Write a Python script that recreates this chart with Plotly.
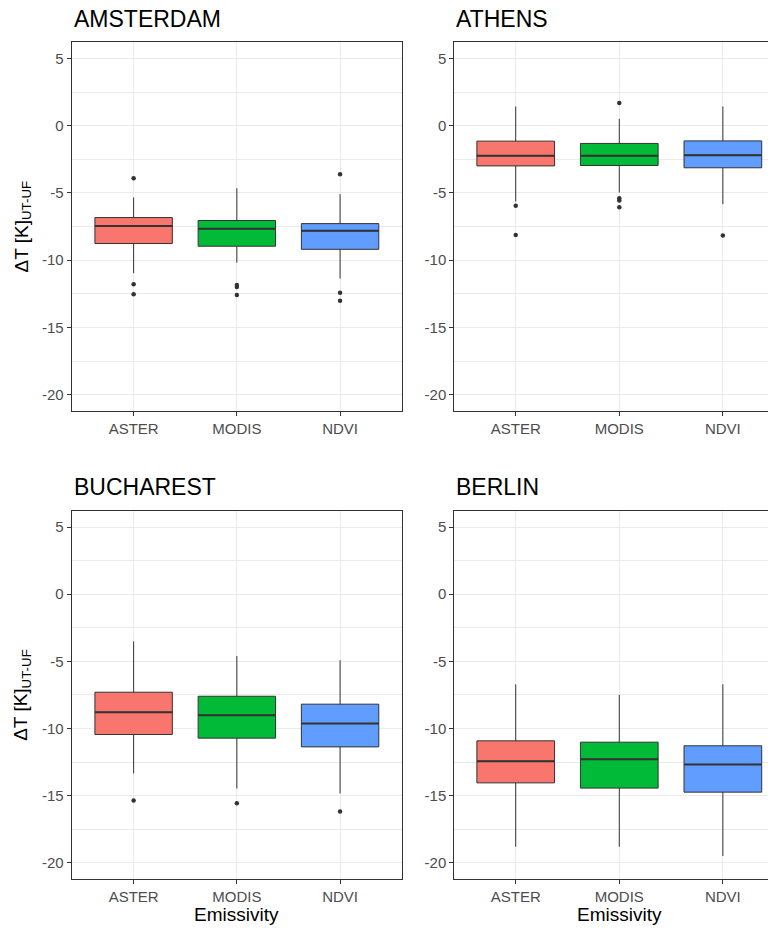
import plotly.graph_objects as go

# ---------------- data ----------------
cities = ["AMSTERDAM", "ATHENS", "BUCHAREST", "BERLIN"]
methods = ["ASTER", "MODIS", "NDVI"]
colors = ["#F8766D", "#00BA38", "#619CFF"]

lower_whisker = {
    "AMSTERDAM": [-10.97, -10.18, -11.36],
    "ATHENS":    [-5.64, -4.97, -5.84],
    "BUCHAREST": [-13.35, -14.47, -14.84],
    "BERLIN":    [-18.81, -18.81, -19.50],
}
q1 = {
    "AMSTERDAM": [-8.76, -8.96, -9.19],
    "ATHENS":    [-2.99, -2.96, -3.13],
    "BUCHAREST": [-10.45, -10.72, -11.37],
    "BERLIN":    [-14.05, -14.44, -14.74],
}
median = {
    "AMSTERDAM": [-7.45, -7.67, -7.82],
    "ATHENS":    [-2.24, -2.24, -2.19],
    "BUCHAREST": [-8.79, -9.01, -9.63],
    "BERLIN":    [-12.44, -12.29, -12.68],
}
q3 = {
    "AMSTERDAM": [-6.83, -7.05, -7.28],
    "ATHENS":    [-1.15, -1.32, -1.13],
    "BUCHAREST": [-7.30, -7.60, -8.19],
    "BERLIN":    [-10.92, -11.02, -11.29],
}
upper_whisker = {
    "AMSTERDAM": [-5.34, -4.65, -5.09],
    "ATHENS":    [1.43, 0.51, 1.43],
    "BUCHAREST": [-3.51, -4.60, -4.92],
    "BERLIN":    [-6.71, -7.50, -6.71],
}
outliers = {
    "AMSTERDAM": [[-3.90, -11.78, -12.54], [-11.84, -12.00, -12.58], [-3.61, -12.42, -13.02]],
    "ATHENS":    [[-5.96, -8.12], [1.68, -5.39, -5.57, -6.06], [-8.17]],
    "BUCHAREST": [[-15.36], [-15.56], [-16.18]],
    "BERLIN":    [[], [], []],
}
y_tickvals = [5, 0, -5, -10, -15, -20]
y_ticktext = ["5", "0", "-5", "-10", "-15", "-20"]
y_minor = [2.5, -2.5, -7.5, -12.5, -17.5]

# ---------------- layout geometry (pixels, page coordinates) ----------------
OFF = 8                      # default body margin of the html page
W, H = 776 - OFF, 930 - OFF  # figure size
FONT = "Liberation Sans, Arial, sans-serif"
# panel boxes in page px: (left, right, top, bottom)
panels = {
    "AMSTERDAM": (71.7, 402.0, 42.0, 411.0),
    "ATHENS":    (454.3, 776.0, 42.0, 411.0),
    "BUCHAREST": (71.7, 402.0, 510.7, 879.0),
    "BERLIN":    (454.3, 776.0, 510.7, 879.0),
}
xranges = {
    "AMSTERDAM": [-0.6, 2.6],
    "ATHENS":    [-0.593, 2.513],
    "BUCHAREST": [-0.6, 2.6],
    "BERLIN":    [-0.593, 2.513],
}
yrange = [-21.21, 6.22]


def px(v):
    return (v - OFF) / W


def py(v):
    return 1 - (v - OFF) / H


fig = go.Figure()
layout = dict(
    width=W, height=H,
    margin=dict(l=0, r=0, t=0, b=0),
    paper_bgcolor="white", plot_bgcolor="white",
    showlegend=False, boxmode="overlay",
    font=dict(family=FONT, color="#4D4D4D", size=15),
    annotations=[],
)

for i, city in enumerate(cities):
    n = "" if i == 0 else str(i + 1)
    xa, ya = "x" + n, "y" + n
    left, right, top, bottom = panels[city]
    is_left = left < 100

    for j, m in enumerate(methods):
        fig.add_trace(go.Box(
            x=[m], q1=[q1[city][j]], median=[median[city][j]], q3=[q3[city][j]],
            lowerfence=[lower_whisker[city][j]], upperfence=[upper_whisker[city][j]],
            fillcolor=colors[j], line=dict(color="#333333", width=1),
            whiskerwidth=0, width=0.75, boxpoints=False,
            xaxis=xa, yaxis=ya, hoverinfo="skip",
        ))
        # thicker median line (ggplot fatten)
        fig.add_trace(go.Box(
            x=[m], q1=[median[city][j]], median=[median[city][j]], q3=[median[city][j]],
            lowerfence=[median[city][j]], upperfence=[median[city][j]],
            fillcolor="rgba(0,0,0,0)", line=dict(color="#333333", width=2),
            whiskerwidth=0, width=0.75, boxpoints=False,
            xaxis=xa, yaxis=ya, hoverinfo="skip",
        ))
        if outliers[city][j]:
            fig.add_trace(go.Scatter(
                x=[m] * len(outliers[city][j]), y=outliers[city][j], mode="markers",
                marker=dict(color="#333333", size=4.5),
                xaxis=xa, yaxis=ya, hoverinfo="skip",
            ))

    layout["xaxis" + n] = dict(
        domain=[px(left), min(px(right), 1.0)], anchor=ya,
        range=xranges[city], type="category",
        categoryorder="array", categoryarray=methods,
        showgrid=True, gridcolor="#EBEBEB", gridwidth=1,
        showline=True, linecolor="#333333", linewidth=1, mirror=True,
        ticks="outside", ticklen=4, tickcolor="#333333", tickwidth=1,
        tickfont=dict(size=15, color="#4D4D4D", family=FONT),
        zeroline=False, fixedrange=True,
    )
    layout["yaxis" + n] = dict(
        domain=[py(bottom), py(top)], anchor=xa,
        range=yrange, tickmode="array", tickvals=y_tickvals, ticktext=y_ticktext,
        showgrid=True, gridcolor="#EBEBEB", gridwidth=1,
        minor=dict(tickmode="array", tickvals=y_minor, showgrid=True,
                   gridcolor="#EBEBEB", gridwidth=0.6, ticks=""),
        showline=True, linecolor="#333333", linewidth=1, mirror=is_left,
        ticks="outside", ticklen=4, tickcolor="#333333", tickwidth=1,
        tickfont=dict(size=15, color="#4D4D4D", family=FONT),
        zeroline=False, fixedrange=True,
    )
    # panel title
    layout["annotations"].append(dict(
        text=city, xref="paper", yref="paper", x=px(left), y=py(top - 23.5),
        xanchor="left", yanchor="middle", showarrow=False,
        font=dict(size=23, color="black", family=FONT),
    ))
    if is_left:
        layout["annotations"].append(dict(
            text="ΔT [K]<sub>UT-UF</sub>", xref="paper", yref="paper",
            x=px(22), y=py((top + bottom) / 2), textangle=-90,
            xanchor="center", yanchor="middle", showarrow=False,
            font=dict(size=19, color="black", family=FONT),
        ))
    if top > 300:
        layout["annotations"].append(dict(
            text="Emissivity", xref="paper", yref="paper",
            x=px((left + (right if is_left else 785.0)) / 2), y=py(914),
            xanchor="center", yanchor="middle", showarrow=False,
            font=dict(size=19, color="black", family=FONT),
        ))

fig.update_layout(**layout)
fig.write_html("out.html")
